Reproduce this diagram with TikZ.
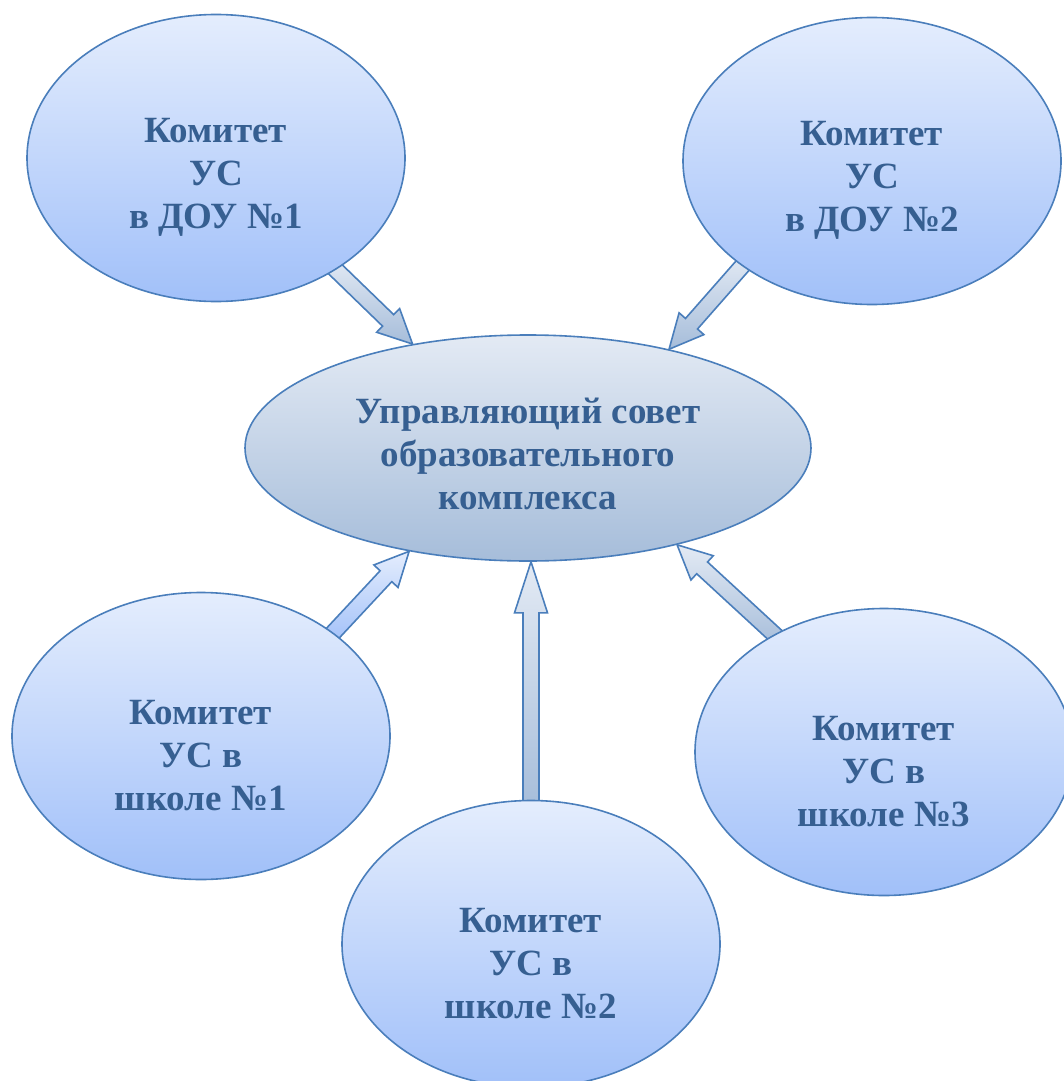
\documentclass[tikz,border=0pt]{standalone}
\usepackage{fontspec}
\setmainfont{Liberation Serif}
\usetikzlibrary{shapes.geometric,calc}

\definecolor{rim}{HTML}{4A7EBB}
\definecolor{ink}{HTML}{365F91}
\definecolor{paletop}{HTML}{E4EDFD}
\definecolor{palebot}{HTML}{A1C0F9}
\definecolor{greytop}{HTML}{E3EAF4}
\definecolor{greybot}{HTML}{A6BDDA}

\pgfdeclarelayer{bg}
\pgfsetlayers{bg,main}

% block arrow: [head length]{from}{to}{style}
\newcommand{\blockarrow}[4][34]{%
  \coordinate (tl) at ($(#2)!-10pt!(#3)$);
  \coordinate (hb) at ($(#3)!#1pt!(#2)$);
  \draw[#4] ($(tl)!8pt!90:(#3)$) -- ($(hb)!8pt!90:(#3)$) -- ($(hb)!16.5pt!90:(#3)$) -- (#3)
    -- ($(hb)!16.5pt!-90:(#3)$) -- ($(hb)!8pt!-90:(#3)$) -- ($(tl)!8pt!-90:(#3)$) -- cycle;
}

\begin{document}
\begin{tikzpicture}[x=1pt,y=-1pt,
    unit/.style={ellipse, draw=rim, line width=1.6pt, top color=paletop, bottom color=palebot,
      minimum width=378pt, minimum height=287pt, inner sep=0pt},
    core/.style={ellipse, draw=rim, line width=1.6pt, top color=greytop, bottom color=greybot,
      minimum width=566pt, minimum height=226pt, inner sep=0pt},
    lbl/.style={font=\bfseries\fontsize{37}{43}\selectfont, text=ink, align=center},
    bluearrow/.style={draw=rim, line width=1.6pt, top color=paletop, bottom color=palebot},
    greyarrow/.style={draw=rim, line width=1.6pt, top color=greytop, bottom color=greybot}]
    \useasboundingbox (0,0) rectangle (1064,1081);

    % Council
    \node[core, label={[lbl, yshift=-6pt]center:{Управляющий совет\\образовательного\\комплекса}}] (council) at (528,448) {};

    % Committees
    \node[unit, label={[lbl, yshift=-19pt]center:{Комитет\\УС\\в ДОУ №1}}] (doo1) at (216,158) {};
    \node[unit, label={[lbl, yshift=-19pt]center:{Комитет\\УС\\в ДОУ №2}}] (doo2) at (872,161) {};
    \node[unit, label={[lbl, yshift=-20pt]center:{Комитет\\УС в\\школе №1}}] (school1) at (201,736) {};
    \node[unit, label={[lbl, yshift=-20pt]center:{Комитет\\УС в\\школе №2}}] (school2) at (531,944) {};
    \node[unit, label={[lbl, yshift=-20pt]center:{Комитет\\УС в\\школе №3}}] (school3) at (884,752) {};

    % Arrows
    \begin{pgfonlayer}{bg}
    \blockarrow{doo1.-43}{council.138}{greyarrow}
    \blockarrow{doo2.-141}{council.35}{greyarrow}
    \blockarrow{school1.38}{council.-139}{bluearrow}
    \blockarrow[51]{school2.north}{school2.north |- council.south}{greyarrow}
    \blockarrow{school3.133}{council.-33}{greyarrow}
    \end{pgfonlayer}

\end{tikzpicture}
\end{document}
